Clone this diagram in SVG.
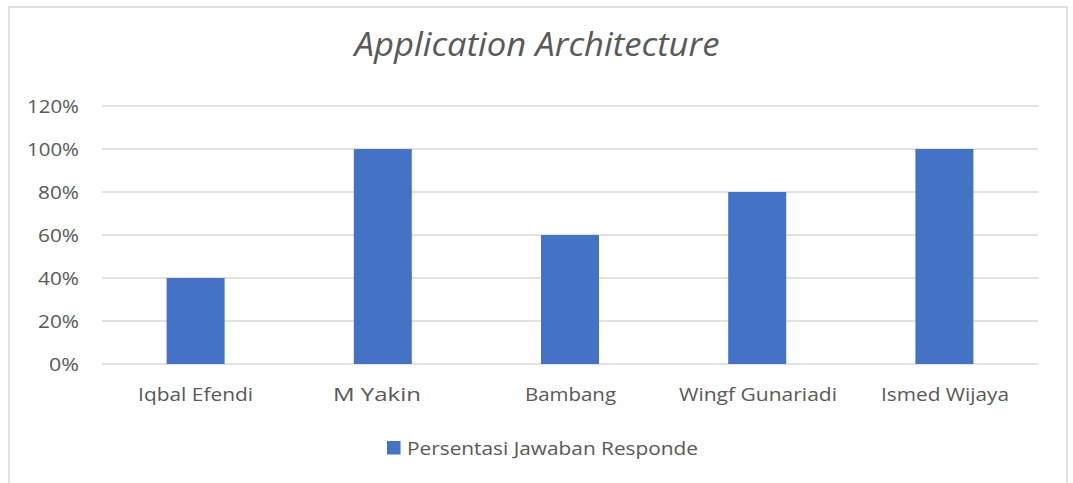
<svg xmlns="http://www.w3.org/2000/svg" width="1073" height="483" viewBox="0 0 1073 483">
<style>
.t{font-family:"Open Sans","Liberation Sans",sans-serif;fill:#595959}
.ax{font-size:17.5px}
.cat{font-size:18px;text-anchor:middle}
.grid{stroke:#D9D9D9;stroke-width:1.5}
.bar{fill:#4472C4}
</style>
<rect x="9" y="7" width="1058" height="490" fill="#FFFFFF" stroke="#D9D9D9" stroke-width="1.5"/>
<g id="title"><text class="t" x="537" y="56" font-size="32" font-style="italic" text-anchor="middle" textLength="365" lengthAdjust="spacingAndGlyphs">Application Architecture</text></g>
<g id="gridlines">
<line class="grid" x1="102" y1="106" x2="1038" y2="106"/>
<line class="grid" x1="102" y1="149" x2="1038" y2="149"/>
<line class="grid" x1="102" y1="192" x2="1038" y2="192"/>
<line class="grid" x1="102" y1="235" x2="1038" y2="235"/>
<line class="grid" x1="102" y1="278" x2="1038" y2="278"/>
<line class="grid" x1="102" y1="321" x2="1038" y2="321"/>
<line class="grid" x1="102" y1="364" x2="1038" y2="364"/>
</g>
<g id="yaxis" class="t ax" text-anchor="end">
<text x="79" y="113" textLength="52" lengthAdjust="spacingAndGlyphs">120%</text>
<text x="79" y="156" textLength="52" lengthAdjust="spacingAndGlyphs">100%</text>
<text x="79" y="199" textLength="41" lengthAdjust="spacingAndGlyphs">80%</text>
<text x="79" y="242" textLength="41" lengthAdjust="spacingAndGlyphs">60%</text>
<text x="79" y="285" textLength="41" lengthAdjust="spacingAndGlyphs">40%</text>
<text x="79" y="328" textLength="41" lengthAdjust="spacingAndGlyphs">20%</text>
<text x="79" y="371" textLength="30" lengthAdjust="spacingAndGlyphs">0%</text>
</g>
<g id="bar-iqbal"><rect class="bar" x="166.6" y="278" width="58" height="86"/></g>
<g id="bar-yakin"><rect class="bar" x="353.8" y="149" width="58" height="215"/></g>
<g id="bar-bambang"><rect class="bar" x="541" y="235" width="58" height="129"/></g>
<g id="bar-wingf"><rect class="bar" x="728.2" y="192" width="58" height="172"/></g>
<g id="bar-ismed"><rect class="bar" x="915.4" y="149" width="58" height="215"/></g>
<g id="xaxis" class="t cat">
<text x="195.6" y="401" textLength="115" lengthAdjust="spacingAndGlyphs">Iqbal Efendi</text>
<text x="377" y="401" textLength="88" lengthAdjust="spacingAndGlyphs">M Yakin</text>
<text x="570.5" y="401" textLength="91" lengthAdjust="spacingAndGlyphs">Bambang</text>
<text x="758" y="401" textLength="158" lengthAdjust="spacingAndGlyphs">Wingf Gunariadi</text>
<text x="945" y="401" textLength="128" lengthAdjust="spacingAndGlyphs">Ismed Wijaya</text>
</g>
<g id="legend">
<rect class="bar" x="387" y="441" width="13.5" height="13.5"/>
<text class="t" x="407" y="455" font-size="18" textLength="291" lengthAdjust="spacingAndGlyphs">Persentasi Jawaban Responde</text>
</g>
</svg>
